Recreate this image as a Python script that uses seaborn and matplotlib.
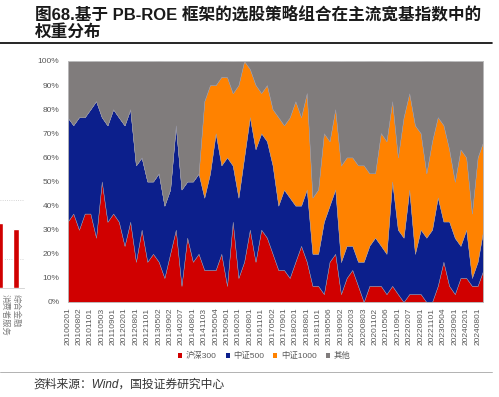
import numpy as np
import seaborn as sns
import matplotlib.pyplot as plt
from matplotlib.patches import Patch
from matplotlib.lines import Line2D

# rebalance dates shown on the axis (every other point is labelled)
tick_labels = ['20100201', '20100802', '20101101', '20110503', '20110901', '20120201',
               '20120801', '20121101', '20130502', '20130902', '20140207', '20140801',
               '20141103', '20150504', '20150901', '20160201', '20160801', '20161101',
               '20170502', '20170901', '20180201', '20180801', '20181101', '20190506',
               '20190902', '20200203', '20200803', '20201102', '20210506', '20210901',
               '20220207', '20220801', '20221101', '20230504', '20230901', '20240201',
               '20240801']

# weights (%) of the portfolio in each index
hs300 = [33.3, 36.7, 30.0, 36.7, 36.7, 26.7, 50.0, 33.3, 36.7, 33.3,
         23.3, 33.3, 16.7, 30.0, 16.7, 20.0, 16.7, 10.0, 20.0, 30.0,
         6.7, 26.7, 16.7, 20.0, 13.3, 13.3, 13.3, 20.0, 6.7, 33.3,
         10.0, 16.7, 30.0, 16.7, 30.0, 26.7, 20.0, 13.3, 13.3, 10.0,
         16.7, 23.3, 16.7, 6.7, 6.7, 3.3, 16.7, 20.0, 3.3, 10.0,
         13.3, 6.7, 0.0, 6.7, 6.7, 6.7, 3.3, 6.7, 3.3, 0.0,
         3.3, 3.3, 3.3, 0.0, 0.0, 6.7, 16.7, 6.7, 3.3, 10.0,
         10.0, 6.7, 6.7, 13.3]
zz500 = [43.3, 36.7, 46.7, 40.0, 43.3, 56.7, 26.7, 40.0, 43.3, 43.3,
         50.0, 46.7, 40.0, 30.0, 33.3, 30.0, 36.7, 30.0, 26.7, 43.3,
         40.0, 23.3, 33.3, 33.3, 30.0, 40.0, 56.7, 36.7, 53.3, 23.3,
         33.3, 43.3, 46.7, 46.7, 40.0, 40.0, 36.7, 26.7, 33.3, 33.3,
         23.3, 16.7, 30.0, 13.3, 13.3, 30.0, 23.3, 26.7, 13.3, 13.3,
         10.0, 10.0, 16.7, 16.7, 20.0, 16.7, 16.7, 43.3, 26.7, 26.7,
         43.3, 16.7, 26.7, 26.7, 30.0, 36.7, 16.7, 26.7, 23.3, 13.3,
         20.0, 3.3, 10.0, 16.7]
zz1000 = [0.0, 0.0, 0.0, 0.0, 0.0, 0.0, 0.0, 0.0, 0.0, 0.0,
          0.0, 0.0, 0.0, 0.0, 0.0, 0.0, 0.0, 0.0, 0.0, 0.0,
          0.0, 0.0, 0.0, 0.0, 40.0, 36.7, 20.0, 36.7, 33.3, 30.0,
          46.7, 40.0, 20.0, 26.7, 16.7, 23.3, 23.3, 36.7, 26.7, 33.3,
          43.3, 36.7, 40.0, 23.3, 26.7, 36.7, 26.7, 33.3, 40.0, 36.7,
          36.7, 40.0, 40.0, 30.0, 26.7, 46.7, 46.7, 33.3, 30.0, 50.0,
          40.0, 53.3, 40.0, 26.7, 36.7, 33.3, 40.0, 30.0, 23.3, 40.0,
          30.0, 26.7, 43.3, 36.7]
other = [23.3, 26.7, 23.3, 23.3, 20.0, 16.7, 23.3, 26.7, 20.0, 23.3,
         26.7, 20.0, 43.3, 40.0, 50.0, 50.0, 46.7, 60.0, 53.3, 26.7,
         53.3, 50.0, 50.0, 46.7, 16.7, 10.0, 10.0, 6.7, 6.7, 13.3,
         10.0, 0.0, 3.3, 10.0, 13.3, 10.0, 20.0, 23.3, 26.7, 23.3,
         16.7, 23.3, 13.3, 56.7, 53.3, 30.0, 33.3, 20.0, 43.3, 40.0,
         40.0, 43.3, 43.3, 46.7, 46.7, 30.0, 33.3, 16.7, 40.0, 23.3,
         13.3, 26.7, 30.0, 46.7, 33.3, 23.3, 26.7, 36.7, 50.0, 36.7,
         40.0, 63.3, 40.0, 33.3]
series_names = ['沪深300', '中证500', '中证1000', '其他']
colors = ['#D00000', '#0C1F8C', '#FF8200', '#807C7C']

# partial neighbouring chart visible on the left edge
side_labels = ['消费者服务', '综合金融']
side_values = [2.22, 2.02]

sns.set_theme(style='white')
plt.rcParams['font.family'] = ['Liberation Sans', 'Noto Sans CJK SC', 'DejaVu Sans']

fig = plt.figure(figsize=(4.99, 3.97), dpi=100)
ax = fig.add_axes([67.6 / 499, 1 - 302 / 397, (483.3 - 67.6) / 499, (302 - 61) / 397])

x = np.arange(len(hs300))
ax.stackplot(x, hs300, zz500, zz1000, other, colors=colors, labels=series_names,
             linewidth=0.3, edgecolor='#9a9aaa')
ax.set_xlim(0, len(x) - 1)
ax.set_ylim(0, 100)

ax.set_xticks(x[::2][:len(tick_labels)])
ax.set_xticklabels(tick_labels, rotation=90, fontsize=6, color='#595959')
ax.set_yticks(np.arange(0, 101, 10))
ax.set_yticklabels([f'{v}%' for v in range(0, 101, 10)], fontsize=6, color='#595959')
ax.tick_params(axis='both', length=0)
ax.tick_params(axis='x', pad=4)
ax.tick_params(axis='y', pad=6)
for s in ax.spines.values():
    s.set_color('#BFBFBF')
    s.set_linewidth(0.6)

handles = [Patch(facecolor=c, edgecolor='none') for c in colors]
leg = fig.legend(handles, series_names, loc='center', bbox_to_anchor=(264 / 499, 1 - 356 / 397),
                 ncol=4, frameon=False, fontsize=6, handlelength=0.5, handleheight=0.5,
                 handletextpad=0.4, columnspacing=1.1, borderpad=0)
for t in leg.get_texts():
    t.set_color('#595959')

# side chart fragment
sax = fig.add_axes([0, 1 - 288 / 397, 24 / 499, 92 / 397])
sax.bar(range(len(side_values)), side_values, width=0.38, color='#D00000')
sax.set_xlim(-0.02, 1.51)
sax.set_ylim(0, 3.14)
sax.set_yticks([1, 3])
sax.set_yticklabels([])
sax.set_xticks([])
sax.tick_params(length=0)
sax.grid(axis='y', linestyle=':', color='#C8C8C8', linewidth=0.6)
sax.set_axisbelow(True)
for k, s in sax.spines.items():
    s.set_visible(k == 'bottom')
sax.spines['bottom'].set_color('#D0D0D0')
sax.spines['bottom'].set_linewidth(0.6)
for i, lab in enumerate(side_labels):
    sax.text(max(i, 0.3), -0.2, lab, rotation=270, ha='center', va='top', fontsize=6,
             color='#808080')

# title, rules and source
fig.text(35 / 499, 1 - 14 / 397, '图68.基于 PB-ROE 框架的选股策略组合在主流宽基指数中的',
         ha='left', va='center', fontsize=12, weight='semibold', color='#1A1A1A')
fig.text(35 / 499, 1 - 32 / 397, '权重分布', ha='left', va='center', fontsize=12,
         weight='semibold', color='#1A1A1A')
fig.add_artist(Line2D([0, 492 / 499], [1 - 43 / 397] * 2, color='black', lw=1.2))
fig.add_artist(Line2D([0, 492 / 499], [1 - 372 / 397] * 2, color='#A6A6A6', lw=0.6))
fig.text(33 / 499, 1 - 385 / 397, '资料来源：Wind，国投证券研究中心', ha='left', va='center',
         fontsize=8.5, style='italic', color='#333333')

fig.savefig('out.png', dpi=100)
